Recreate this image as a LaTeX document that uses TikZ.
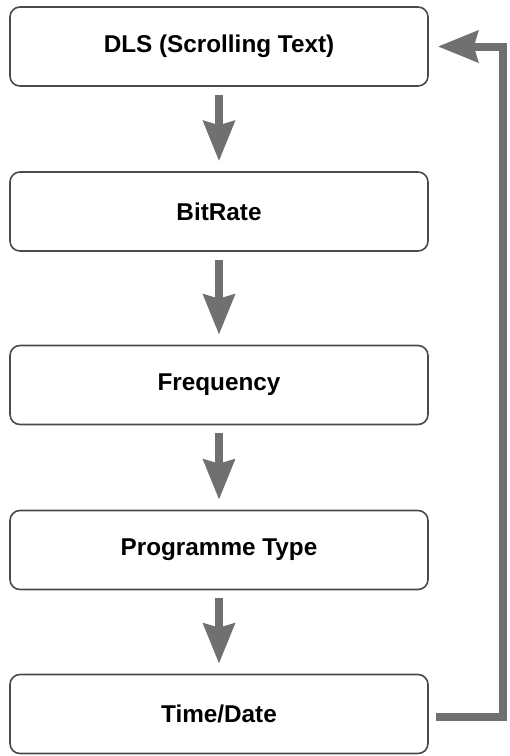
\documentclass[tikz,border=0pt]{standalone}
\usepackage{fontspec}
\setmainfont{Liberation Sans}
\usetikzlibrary{calc,positioning,arrows.meta}
\definecolor{edge}{HTML}{4A4A4A}
\definecolor{flowgray}{HTML}{707070}
\tikzset{
  infobox/.style={draw=edge,line width=1.6pt,rounded corners=10pt,fill=white,minimum width=418pt,minimum height=79pt,inner sep=0pt,font=\bfseries\fontsize{24.3}{28}\selectfont},
  flow/.style={-{Stealth[length=40pt,width=31pt,inset=4pt]},flowgray,line width=8pt,shorten <=8pt,shorten >=10pt},
}

\begin{document}
\begin{tikzpicture}[x=1pt,y=-1pt]
\useasboundingbox (0,0) rectangle (510,756);
\node[infobox] (dls)     at (219,46.5) {DLS (Scrolling Text)};
\node[infobox] (bitrate) at (219,211.5) {BitRate};
\node[infobox] (freq)    at (219,385) {Frequency};
\node[infobox] (ptype)   at (219,550) {Programme Type};
\node[infobox] (tdate)   at (219,714) {Time/Date};
\draw[flow] (dls) -- (bitrate); \draw[flow] (bitrate) -- (freq);
\draw[flow] (freq) -- (ptype); \draw[flow] (ptype) -- (tdate);
% loop back to the top
\coordinate (turn) at (503,0);
\draw[flow,line join=miter,shorten <=7pt,shorten >=9pt] ($(tdate.east)+(0,3)$) -- ($(tdate.east -| turn)+(0,3)$) |- (dls.east);
\end{tikzpicture}
\end{document}
